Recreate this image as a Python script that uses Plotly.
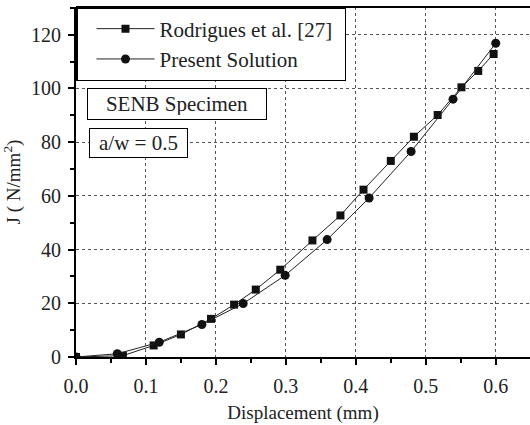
import plotly.graph_objects as go

# Rodrigues et al. [27]
rod_x = [0.0, 0.067, 0.111, 0.150, 0.193, 0.226, 0.257, 0.292, 0.338, 0.378, 0.411, 0.450, 0.483, 0.517, 0.551, 0.575, 0.597]
rod_y = [0.0, 0.5, 4.3, 8.4, 14.2, 19.5, 25.1, 32.5, 43.4, 52.7, 62.3, 73.0, 82.0, 90.1, 100.4, 106.5, 112.8]

# Present Solution
pre_x = [0.0, 0.059, 0.119, 0.180, 0.239, 0.299, 0.359, 0.419, 0.479, 0.539, 0.600]
pre_y = [0.0, 1.2, 5.5, 12.1, 19.9, 30.4, 43.7, 59.2, 76.5, 96.0, 116.8]

x_ticks = [0.0, 0.1, 0.2, 0.3, 0.4, 0.5, 0.6]
y_ticks = [0, 20, 40, 60, 80, 100, 120]

FONT = "Liberation Serif, Times New Roman, serif"
TXT = "#222"

fig = go.Figure()
fig.add_trace(go.Scatter(
    x=rod_x, y=rod_y, mode="lines+markers", name="Rodrigues et al. [27]",
    line=dict(color="#222", width=1),
    marker=dict(symbol="square", size=8, color="#111"),
))
fig.add_trace(go.Scatter(
    x=pre_x, y=pre_y, mode="lines+markers", name="Present Solution",
    line=dict(color="#222", width=1),
    marker=dict(symbol="circle", size=9, color="#111"),
))

axis_common = dict(
    showline=True, linecolor="black", linewidth=2,
    ticks="outside", ticklen=6, tickwidth=1.5, tickcolor="black",
    showgrid=True, gridcolor="#555", griddash="dot", gridwidth=1,
    zeroline=False, automargin=False,
    tickfont=dict(family=FONT, size=20, color=TXT),
)

fig.update_xaxes(
    range=[0, 0.649], tickvals=x_ticks, tickformat=".1f", ticklabelstandoff=4,
    minor=dict(dtick=0.05, ticks="outside", ticklen=4, tickwidth=1.5, tickcolor="black", showgrid=False),
    title=dict(text="Displacement (mm)" + "\u00a0" * 6, font=dict(family=FONT, size=19, color=TXT), standoff=10),
    **axis_common,
)
fig.update_yaxes(
    range=[0, 130.3], tickvals=y_ticks, ticklabelstandoff=3,
    minor=dict(dtick=10, ticks="outside", ticklen=4, tickwidth=1.5, tickcolor="black", showgrid=False),
    title=dict(text="J ( N/mm<sup>2</sup>)", font=dict(family=FONT, size=19, color=TXT), standoff=14),
    **axis_common,
)

# top border line
fig.add_shape(type="line", xref="paper", yref="paper", x0=0, x1=1, y0=1, y1=1,
              line=dict(color="black", width=2))

fig.update_layout(
    width=530, height=425,
    margin=dict(l=76, r=0, t=7, b=68),
    paper_bgcolor="white", plot_bgcolor="white",
    showlegend=True,
    legend=dict(
        orientation="h",
        x=0, y=1, xanchor="left", yanchor="top",
        bgcolor="white", bordercolor="black", borderwidth=1.5,
        font=dict(family=FONT, size=21, color=TXT),
        itemwidth=58, indentation=14,
        entrywidth=180, entrywidthmode="pixels",
    ),
    annotations=[
        dict(text="SENB Specimen", xref="paper", yref="paper", x=0.0242, y=0.769,
             xanchor="left", yanchor="top", showarrow=False, width=170, height=22,
             font=dict(family=FONT, size=21, color=TXT),
             bordercolor="black", borderwidth=1, borderpad=4, bgcolor="white"),
        dict(text="a/w = 0.5", xref="paper", yref="paper", x=0.028, y=0.655,
             xanchor="left", yanchor="top", showarrow=False, width=89, height=20,
             font=dict(family=FONT, size=21, color=TXT),
             bordercolor="black", borderwidth=1, borderpad=4, bgcolor="white"),
    ],
)

fig.write_html("out.html", config={"displayModeBar": False},
               post_script="document.body.style.margin='0';document.body.style.overflow='hidden';")
